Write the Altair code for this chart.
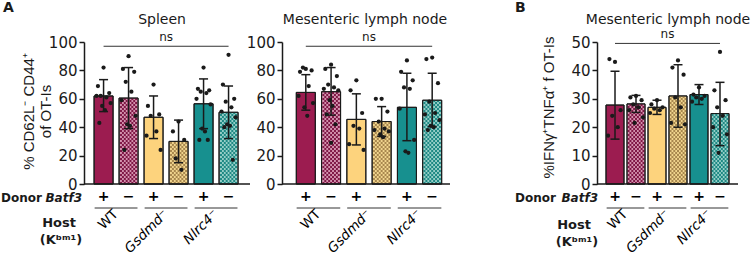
import altair as alt
import pandas as pd

# ---------------- data ----------------
donor = ["+", "−", "+", "−", "+", "−"]
host = ["WT", "WT", "Gsdmd", "Gsdmd", "Nlrc4", "Nlrc4"]
group_labels = ["WT", "Gsdmd⁻", "Nlrc4⁻"]
group_italic = [False, True, True]

spleen_mean = [62, 60.5, 47, 30, 56.5, 50.5]
spleen_lo = [51, 39, 32, 15, 39, 32]
spleen_hi = [73.5, 82, 62, 45, 74, 69]
spleen_pts = [
    [82, 69, 64, 62, 61, 62, 57, 55, 52, 43],
    [90, 81, 79, 72, 65, 59, 48, 42, 41, 24],
    [70, 55, 49, 48, 37, 34, 24],
    [44, 37, 31, 18, 10],
    [82, 67, 66, 65, 64, 60, 56, 39, 37, 31, 31],
    [91, 70, 60, 58, 54, 51, 47, 42, 41, 40, 17],
]

mln_mean = [64.5, 65, 45.5, 44, 54, 59]
mln_lo = [52, 48.5, 27.5, 33.5, 30.5, 40.5]
mln_hi = [77, 82, 63.5, 54.5, 78, 78]
mln_pts = [
    [81, 79, 80, 82, 69, 62, 57, 54, 48],
    [84, 81, 76, 70, 68, 67, 66, 59, 55, 49, 42, 29],
    [73, 66, 50, 41, 39, 28, 24],
    [60, 60, 51, 44, 39, 38, 37, 35, 33],
    [87, 79, 73, 68, 67, 53, 31, 23, 22],
    [89, 88, 71, 58, 50, 49, 45, 41, 40, 38],
]

b_mean = [27.8, 28.2, 27, 31, 31.5, 24.8]
b_lo = [15.8, 25.2, 24.5, 20, 28, 13.5]
b_hi = [39.7, 31.2, 29.5, 42, 35, 35.8]
b_pts = [
    [43, 44, 26, 24, 20, 17],
    [31, 30.5, 29.5, 28, 27, 26, 23.5, 21.5],
    [29.5, 28, 27, 26.5, 26, 25],
    [43.5, 41, 38.5, 30.5, 27, 21.5, 21],
    [34, 31.5, 31, 30.5, 30, 29],
    [46.5, 33, 29.5, 27, 24, 20, 17.5, 11],
]

solid = {"WT": "#9c1c50", "Gsdmd": "#fdd37d", "Nlrc4": "#17908f"}
dark = {"WT": "#7f1846", "Gsdmd": "#a8874e", "Nlrc4": "#1f8984"}
light = {"WT": "#d392ae", "Gsdmd": "#f0d48e", "Nlrc4": "#95cec7"}

FONT = "DejaVu Sans"
INK = "#1a1a1a"
H = 142
JIT = [0, -6, 6, -3, 3, -7.5, 7.5, -1.5, 1.5, -4.5, 4.5, 0]


def one():
    return pd.DataFrame({"a": [0]})


def txt(text, x, y, size=12, weight="normal", style="normal", align="left",
        baseline="middle", font=FONT):
    return alt.Chart(one()).mark_text(
        text=text, font=font, fontSize=size, fontWeight=weight, fontStyle=style,
        align=align, baseline=baseline, color=INK
    ).encode(x=alt.value(x), y=alt.value(y))


def make_panel(mean, lo, hi, pts, ymax, ystep, ns_y, W, axis_w, step_px,
               first_px, bar_w, title, title_x, ytitle, ytitle_size,
               ytitle_x, ytitle_y, extras):
    xs = alt.Scale(domain=[-first_px / step_px, (W - first_px) / step_px],
                   nice=False, zero=False)
    ys = alt.Scale(domain=[0, ymax], nice=False, zero=True)

    yaxis = alt.Axis(
        values=list(range(0, ymax + 1, ystep)), grid=False, tickSize=5,
        tickWidth=1.5, tickColor=INK, domainColor=INK, domainWidth=1.5,
        labelFont=FONT, labelFontSize=15, labelColor=INK, labelPadding=2,
        title=ytitle, titleFont="Liberation Sans", titleFontSize=ytitle_size,
        titleFontWeight="normal", titleColor=INK, titleAngle=270,
        titleX=ytitle_x, titleY=ytitle_y, titleAlign="center",
        titleBaseline="middle", titleLineHeight=17, titleLimit=400,
    )

    def X(f):
        return alt.X(f, type="quantitative", scale=xs, axis=None)

    def Y(f):
        return alt.Y(f, type="quantitative", scale=ys, axis=yaxis)

    bars = pd.DataFrame({
        "pos": list(range(6)), "mean": mean, "lo": lo, "hi": hi,
        "host": host, "donor": donor, "zero": [0] * 6,
    })
    bars["fill"] = [solid[h] if d == "+" else light[h] for h, d in zip(host, donor)]

    bar = alt.Chart(bars).mark_bar(
        width=bar_w, orient="vertical", stroke=INK, strokeWidth=1
    ).encode(
        x=X("pos"), y=Y("mean"), y2="zero:Q",
        color=alt.Color("fill:N", scale=None),
    )

    ncols = int(bar_w // 2)
    rows = []
    for i in range(6):
        if donor[i] == "−":
            for k in range(ncols):
                rows.append({
                    "x": i + (k - (ncols - 1) / 2) * 2 / step_px,
                    "zero": 0, "mean": mean[i], "dark": dark[host[i]],
                    "par": k % 2,
                })
    cells = pd.DataFrame(rows)
    checks = []
    for par, off in [(0, 0), (1, 2)]:
        checks.append(
            alt.Chart(cells).transform_filter(f"datum.par == {par}").mark_rule(
                strokeWidth=2, strokeDash=[2, 2], strokeDashOffset=off
            ).encode(x=X("x"), y=Y("zero"), y2="mean:Q",
                     color=alt.Color("dark:N", scale=None))
        )

    outline = alt.Chart(bars).mark_bar(
        width=bar_w, orient="vertical", fillOpacity=0, stroke=INK, strokeWidth=1
    ).encode(x=X("pos"), y=Y("mean"), y2="zero:Q")

    err = alt.Chart(bars).mark_rule(color=INK, strokeWidth=1.5).encode(
        x=X("pos"), y=Y("lo"), y2="hi:Q")
    cap_lo = alt.Chart(bars).mark_tick(
        orient="horizontal", size=9, thickness=1.5, color=INK, opacity=1
    ).encode(x=X("pos"), y=Y("lo"))
    cap_hi = alt.Chart(bars).mark_tick(
        orient="horizontal", size=9, thickness=1.5, color=INK, opacity=1
    ).encode(x=X("pos"), y=Y("hi"))

    prow = []
    for i, vals in enumerate(pts):
        for j, v in enumerate(vals):
            prow.append({"x": i + JIT[j % len(JIT)] / step_px, "v": v})
    dots = alt.Chart(pd.DataFrame(prow)).mark_circle(
        size=18, color=INK, opacity=1
    ).encode(x=X("x"), y=Y("v"))

    nsdf = pd.DataFrame({"x0": [0], "x1": [5], "xm": [2.5], "y": [ns_y], "t": ["ns"]})
    nsline = alt.Chart(nsdf).mark_rule(color="#333", strokeWidth=1).encode(
        x=X("x0"), x2="x1:Q", y=Y("y"))
    nstext = alt.Chart(nsdf).mark_text(
        font=FONT, fontSize=12, baseline="bottom", dy=-2, color=INK
    ).encode(x=X("xm"), y=Y("y"), text="t:N")

    base = alt.Chart(one()).mark_rule(color=INK, strokeWidth=1.5).encode(
        x=alt.value(0), x2=alt.value(axis_w), y=alt.value(H))

    pm = alt.Chart(bars).mark_text(
        font=FONT, fontSize=14, fontWeight="bold", color="#000000"
    ).encode(x=X("pos"), y=alt.value(155), text="donor:N")

    hb = (bar_w / 2) / step_px
    pairs = pd.DataFrame({
        "x0": [0 - hb, 2 - hb, 4 - hb], "x1": [1 + hb, 3 + hb, 5 + hb],
        "xm": [0.5, 2.5, 4.5], "label": group_labels, "ital": group_italic,
    })
    ul = alt.Chart(pairs).mark_rule(color="#333", strokeWidth=1).encode(
        x=X("x0"), x2="x1:Q", y=alt.value(166))
    gl = []
    for flt, style in [("!datum.ital", "normal"), ("datum.ital", "italic")]:
        gl.append(
            alt.Chart(pairs).transform_filter(flt).mark_text(
                angle=315, align="right", baseline="middle", font=FONT,
                fontSize=13.5, fontStyle=style, color="#000000"
            ).encode(x=X("xm"), y=alt.value(170), text="label:N")
        )

    ttl = txt(title, title_x, -18, size=14, align="center", baseline="alphabetic")

    layers = [bar] + checks + [outline, err, cap_lo, cap_hi, dots, nsline,
                               nstext, base, pm, ul] + gl + [ttl] + extras
    return alt.layer(*layers).properties(width=W, height=H)


anchor = alt.Chart(one()).mark_rect(opacity=0).encode(
    x=alt.value(-84), x2=alt.value(-83), y=alt.value(-42), y2=alt.value(-41))

extras1 = [
    anchor,
    txt("A", -81, -30, size=14, weight="bold", baseline="alphabetic"),
    txt("Donor", -83, 160, weight="bold", baseline="alphabetic"),
    txt("Batf3", -2, 160, weight="bold", style="italic", align="right",
        baseline="alphabetic"),
    txt("Host", -25, 181, size=13, weight="bold", align="center"),
    txt("(Kᵇᵐ¹)", -23, 198, size=13, weight="bold", align="center"),
]
extras3 = [
    txt("B", -82, -30, size=14, weight="bold", baseline="alphabetic"),
    txt("Donor", -82, 160, weight="bold", baseline="alphabetic"),
    txt("Batf3", 1, 160, weight="bold", style="italic", align="right",
        baseline="alphabetic"),
    txt("Host", -23, 183, size=13, weight="bold", align="center"),
    txt("(Kᵇᵐ¹)", -20, 200, size=13, weight="bold", align="center"),
]

p1 = make_panel(spleen_mean, spleen_lo, spleen_hi, spleen_pts, 100, 20, 97,
                166, 166, 26.6, 15.5, 19, "Spleen", 78,
                ["% CD62L⁻ CD44⁺", "of OT-Is"], 15, -55.5, 69, extras1)
p2 = make_panel(mln_mean, mln_lo, mln_hi, mln_pts, 100, 20, 97,
                283, 168, 26.2, 19.5, 19, "Mesenteric lymph node", 83,
                "", 13, -50, 71, [])
p3 = make_panel(b_mean, b_lo, b_hi, b_pts, 50, 10, 49.5,
                141, 141, 22.6, 14, 18, "Mesenteric lymph node", 71,
                "%IFNγ⁺TNFα⁺ f OT-Is", 15, -49, 65, extras3)

chart = alt.hconcat(p1, p2, p3, spacing=32, bounds="flush", padding=0).configure_view(
    stroke=None
)

chart.save("out.html", embed_options={"renderer": "svg", "actions": False})
